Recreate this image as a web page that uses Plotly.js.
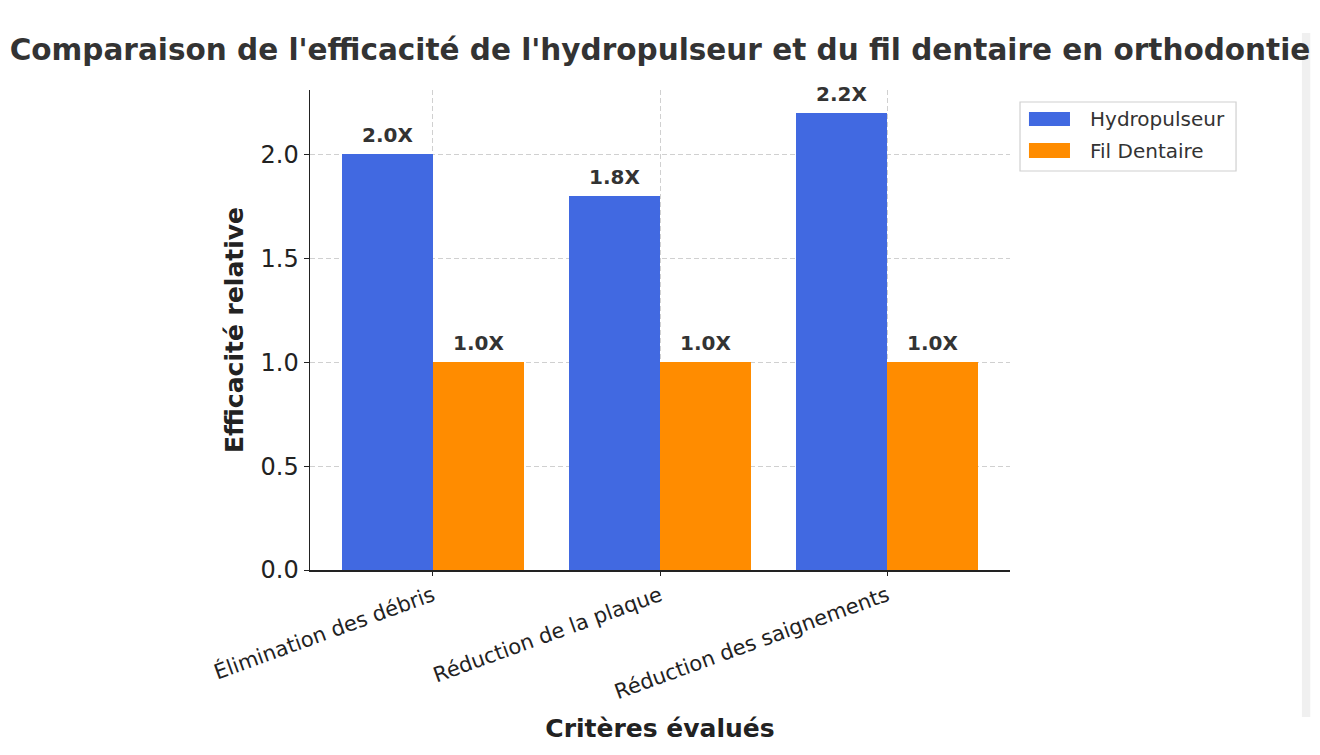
<!DOCTYPE html>
<html>
<head>
<meta charset="utf-8">
<script src="https://cdn.plot.ly/plotly-3.0.1.min.js"></script>
<style>html,body{margin:0;padding:0;background:#fff;} #chart{width:1320px;height:755px;}</style>
</head>
<body>
<div id="chart"></div>
<script>
const categories = ["Élimination des débris", "Réduction de la plaque", "Réduction des saignements"];
const hydropulseur = [2.0, 1.8, 2.2];
const filDentaire = [1.0, 1.0, 1.0];
const seriesNames = ["Hydropulseur", "Fil Dentaire"];
const seriesColors = ["#4169E1", "#FF8C00"];
const yTicks = [0.0, 0.5, 1.0, 1.5, 2.0];
const yTickLabels = ["0.0", "0.5", "1.0", "1.5", "2.0"];

const font = "DejaVu Sans, sans-serif";
const idx = categories.map((c, i) => i);
const label = v => "<b>" + v.toFixed(1) + "X</b>";
const barW = 0.4;
const seriesData = [hydropulseur, filDentaire];
const offsets = [-barW, 0];

const traces = seriesData.map((vals, s) => ({
  type: "bar", name: seriesNames[s], x: idx, y: vals, offset: offsets[s], width: barW,
  marker: {color: seriesColors[s]}, hoverinfo: "none", showlegend: false
}));

// value labels above bars
const annotations = [];
seriesData.forEach((vals, s) => {
  vals.forEach((v, i) => {
    annotations.push({
      x: i + offsets[s] + barW / 2, y: v, xref: "x", yref: "y",
      text: label(v), showarrow: false, xanchor: "center", yanchor: "bottom", yshift: 5,
      font: {family: font, size: 20, color: "#333333"}
    });
  });
});

// custom legend (paper coordinates)
const legendBox = {x0: 1.0143, x1: 1.3229, y0: 0.83125, y1: 0.975};
const swatchX = [1.0271, 1.0857];
const swatchY = [[0.925, 0.9542], [0.8583, 0.8896]];
const textX = 1.1114;
const shapes = [
  {type: "rect", xref: "paper", yref: "paper", x0: 1.417, x1: 1.429, y0: -0.306, y1: 1.119,
   fillcolor: "#f0f0f0", line: {width: 0}, layer: "below"},
  {type: "rect", xref: "paper", yref: "paper", x0: legendBox.x0, x1: legendBox.x1, y0: legendBox.y0, y1: legendBox.y1,
   fillcolor: "#ffffff", line: {color: "#d0d0d0", width: 1.2}}
];
seriesNames.forEach((n, s) => {
  shapes.push({type: "rect", xref: "paper", yref: "paper", x0: swatchX[0], x1: swatchX[1],
    y0: swatchY[s][0], y1: swatchY[s][1], fillcolor: seriesColors[s], line: {width: 0}});
  annotations.push({x: textX, y: (swatchY[s][0] + swatchY[s][1]) / 2, xref: "paper", yref: "paper",
    text: n, showarrow: false, xanchor: "left", yanchor: "middle",
    font: {family: font, size: 20, color: "#333333"}});
});

const layout = {
  width: 1320, height: 755,
  margin: {l: 310, r: 310, t: 90, b: 185},
  paper_bgcolor: "#ffffff", plot_bgcolor: "#ffffff",
  font: {family: font, color: "#222222"},
  title: {text: "<b>Comparaison de l'efficacité de l'hydropulseur et du fil dentaire en orthodontie</b>",
          font: {family: font, size: 29.5, color: "#333333"}, x: 0.5, xanchor: "center", y: 0.934, yanchor: "middle"},
  barmode: "overlay",
  bargap: 0,
  xaxis: {range: [-0.54, 2.54], tickmode: "array", tickvals: idx, ticktext: categories,
          tickangle: -20, tickfont: {family: font, size: 21, color: "#222222"},
          showline: true, linecolor: "#222222", linewidth: 1.5, mirror: false,
          ticks: "outside", ticklen: 4, tickcolor: "#222222",
          showgrid: true, gridcolor: "#d0d0d0", griddash: "5px,3px", gridwidth: 1, zeroline: false,
          title: {text: "<b>Critères évalués</b>", font: {family: font, size: 25, color: "#222222"}, standoff: 16}},
  yaxis: {range: [0, 2.31], tickmode: "array", tickvals: yTicks, ticktext: yTickLabels,
          tickfont: {family: font, size: 24, color: "#222222"},
          showline: true, linecolor: "#222222", linewidth: 1.5,
          ticks: "outside", ticklen: 5, tickcolor: "#222222",
          showgrid: true, gridcolor: "#d0d0d0", griddash: "5px,3px", gridwidth: 1, zeroline: false,
          title: {text: "<b>Efficacité relative</b>", font: {family: font, size: 25, color: "#222222"}, standoff: 10}},
  annotations: annotations,
  shapes: shapes,
  showlegend: false
};

Plotly.newPlot("chart", traces, layout, {staticPlot: true, displayModeBar: false});
</script>
</body>
</html>
